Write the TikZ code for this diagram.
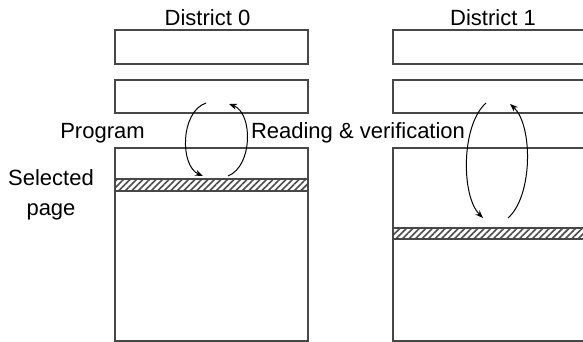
\documentclass[tikz,border=0pt]{standalone}
\usepackage{fontspec}
\setmainfont{Liberation Sans}
\usetikzlibrary{arrows.meta,patterns.meta}
\begin{document}
\begin{tikzpicture}[x=1pt,y=-1pt,
  lbl/.style={inner sep=0pt,font=\fontsize{22}{26}\selectfont,text=black},
  cell/.style={draw=black!72,line width=1.5pt,fill=white},
  hatch/.style={draw=black!72,line width=1.5pt,
    pattern={Lines[angle=45,distance=4.6pt,line width=1.6pt]},pattern color=black!70},
  loop/.style={line width=1pt,-{Stealth[length=8pt,width=6pt]}}]
\useasboundingbox (0,0) rectangle (583,342);
\begin{scope}
\clip (0,0) rectangle (583,342);
% District 0
\draw[cell] (115,30) rectangle (308,64);
\draw[cell] (115,80) rectangle (308,113);
\draw[cell] (115,148) rectangle (308,341);
\draw[hatch] (115,179) rectangle (308,191);
% District 1
\draw[cell] (393,30) rectangle (590,64);
\draw[cell] (393,80) rectangle (590,113);
\draw[cell] (393,148) rectangle (590,341);
\draw[hatch] (393,228) rectangle (590,239);
\end{scope}
% labels
\node[lbl,anchor=base] (d0) at (207.5,26) {District 0};
\node[lbl,anchor=base] (d1) at (493,26) {District 1};
\node[lbl,anchor=base] (prog) at (102.5,138) {Program};
\node[lbl,anchor=base] (read) at (358,138) {Reading \& verification};
\node[lbl,anchor=base] (sel) at (51,185) {Selected};
\node[lbl,anchor=base] (pg) at (51,215.5) {page};
% arrow ends
\coordinate (a0s) at (206,103);
\coordinate (a0e) at (203,176);
\coordinate (b0s) at (228,176);
\coordinate (b0e) at (229,104);
\coordinate (a1s) at (486,103);
\coordinate (a1e) at (483,218);
\coordinate (b1s) at (508,218);
\coordinate (b1e) at (510,104);
\draw[loop] (a0s) .. controls (180,112) and (180,166) .. (a0e);
\draw[loop] (b0s) .. controls (253,166) and (253,113) .. (b0e);
\draw[loop] (a1s) .. controls (461,125) and (461,196) .. (a1e);
\draw[loop] (b1s) .. controls (533,196) and (533,125) .. (b1e);
\end{tikzpicture}
\end{document}
